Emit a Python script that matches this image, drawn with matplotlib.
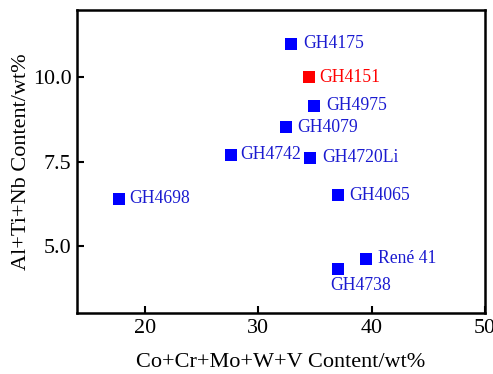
import matplotlib
matplotlib.use("Agg")
import matplotlib.pyplot as plt

plt.rcParams['font.family'] = ['Liberation Serif', 'DejaVu Serif']
plt.rcParams['mathtext.fontset'] = 'stix'

# Alloy composition data
alloys = ["GH4698", "GH4742", "GH4175", "GH4151", "GH4975", "GH4079",
          "GH4720Li", "GH4065", "René 41", "GH4738"]
co_cr_mo_w_v = [17.7, 27.6, 32.9, 34.5, 34.9, 32.4, 34.6, 37.0, 39.5, 37.0]
al_ti_nb = [6.4, 7.7, 11.0, 10.0, 9.16, 8.52, 7.61, 6.5, 4.61, 4.31]
highlight = "GH4151"

x_ticks = [20, 30, 40, 50]
y_ticks = [5.0, 7.5, 10.0]

# label placement (offset in points, alignment)
label_style = {
    "GH4698": ((7.5, 0), "left", "center"),
    "GH4742": ((6.5, 0), "left", "center"),
    "GH4175": ((8.5, 0), "left", "center"),
    "GH4151": ((7.2, 0), "left", "center"),
    "GH4975": ((8.6, 0), "left", "center"),
    "GH4079": ((8.6, 0), "left", "center"),
    "GH4720Li": ((8.8, 0), "left", "center"),
    "GH4065": ((8.6, 0), "left", "center"),
    "René 41": ((8.8, 0), "left", "center"),
    "GH4738": ((-5.0, -12.0), "left", "center"),
}

fig = plt.figure(figsize=(4.93, 3.74), dpi=100)
ax = fig.add_axes([77 / 493, 1 - 313 / 374, 408 / 493, 303 / 374])

blue, red = "#0000ff", "#ff0000"
for name, x, y in zip(alloys, co_cr_mo_w_v, al_ti_nb):
    mc = red if name == highlight else blue
    tc = red if name == highlight else "#1a1ad0"
    ax.plot(x, y, marker="s", linestyle="none", markersize=9.0,
            color=mc, markeredgewidth=0)
    off, ha, va = label_style[name]
    ax.annotate(name, (x, y), xytext=off, textcoords="offset points",
                ha=ha, va=va, color=tc, fontsize=12.7)

ax.set_xlim(14, 50)
ax.set_ylim(3, 12)
ax.set_xticks(x_ticks)
ax.set_yticks(y_ticks)
ax.set_yticklabels([f"{v:.1f}" for v in y_ticks])
ax.tick_params(direction="in", length=5, width=1.5, labelsize=15.8, pad=4)
for s in ax.spines.values():
    s.set_linewidth(1.8)

ax.set_xlabel("Co+Cr+Mo+W+V Content/wt%", fontsize=16, labelpad=11)
ax.set_ylabel("Al+Ti+Nb Content/wt%", fontsize=16, labelpad=1)

fig.savefig("out.png", dpi=100)
